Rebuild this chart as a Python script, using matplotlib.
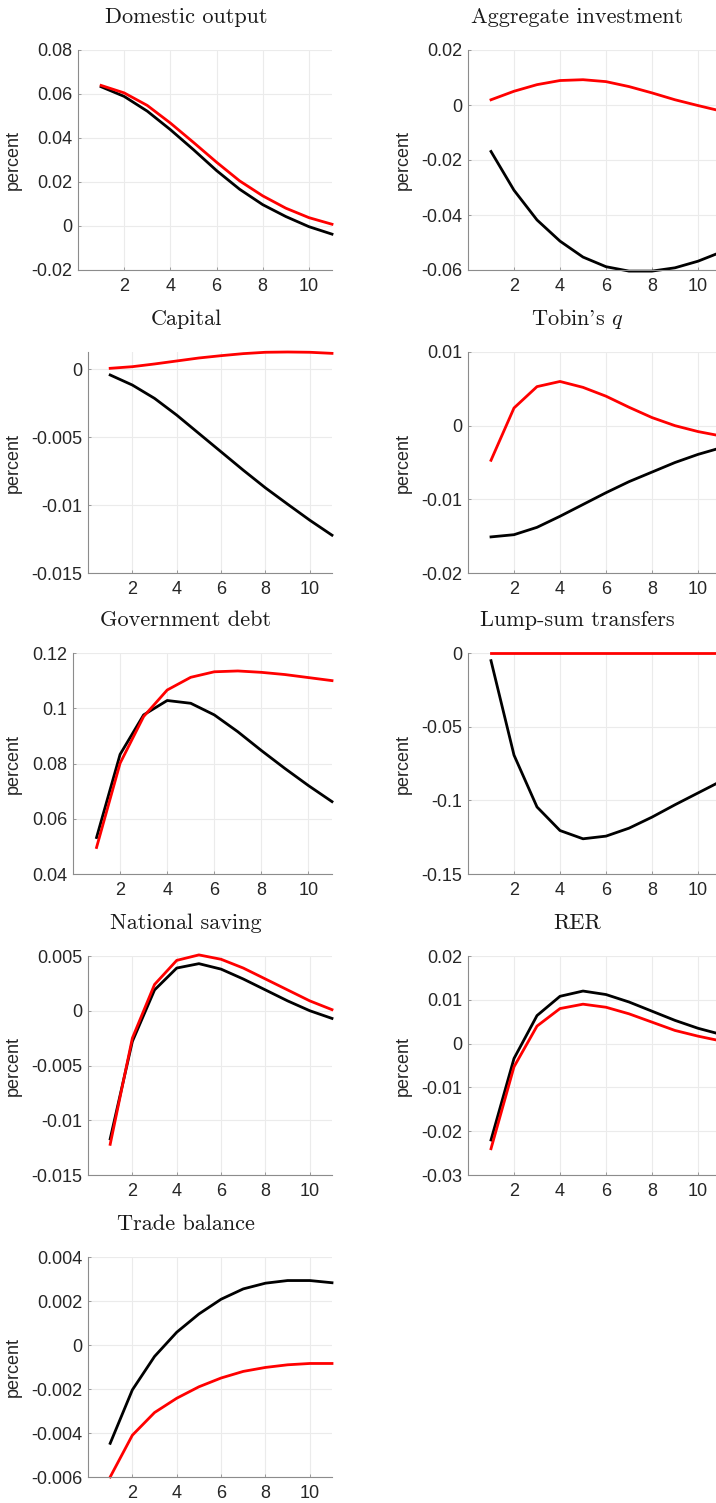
import numpy as np
import matplotlib
matplotlib.use("Agg")
import matplotlib.pyplot as plt

plt.rcParams['font.family'] = ['Liberation Sans', 'DejaVu Sans']
plt.rcParams['mathtext.fontset'] = 'cm'

# horizon (quarters)
t = np.arange(1, 12)

# impulse responses: black line / red line
dom_out_k = [0.0633, 0.0589, 0.0522, 0.0438, 0.0347, 0.0252, 0.0167, 0.0097, 0.0043, -0.0003, -0.0037]
dom_out_r = [0.0639, 0.0605, 0.0548, 0.0468, 0.0380, 0.0290, 0.0205, 0.0137, 0.0081, 0.0038, 0.0008]

inv_k = [-0.0169, -0.0310, -0.0418, -0.0495, -0.0553, -0.0588, -0.0604, -0.0604, -0.0592, -0.0568, -0.0535]
inv_r = [0.0019, 0.0050, 0.0074, 0.0089, 0.0092, 0.0085, 0.0067, 0.0044, 0.0019, -0.0002, -0.0022]

cap_k = [-0.00044, -0.00118, -0.00216, -0.00339, -0.00474, -0.00609, -0.00744, -0.00874, -0.00994, -0.01112, -0.01222]
cap_r = [0.00005, 0.00017, 0.00037, 0.00059, 0.00081, 0.00098, 0.00113, 0.00123, 0.00125, 0.00123, 0.00115]

q_k = [-0.0151, -0.0148, -0.0138, -0.0123, -0.0107, -0.0091, -0.0076, -0.0063, -0.0050, -0.0039, -0.0030]
q_r = [-0.0047, 0.0024, 0.0053, 0.0060, 0.0052, 0.0040, 0.0025, 0.0011, 0.0000, -0.0008, -0.0014]

debt_k = [0.0532, 0.0833, 0.0976, 0.1028, 0.1018, 0.0976, 0.0915, 0.0847, 0.0782, 0.0720, 0.0662]
debt_r = [0.0496, 0.0801, 0.0970, 0.1066, 0.1112, 0.1132, 0.1135, 0.1130, 0.1122, 0.1111, 0.1100]

lump_k = [-0.0052, -0.0693, -0.1045, -0.1205, -0.1261, -0.1243, -0.1189, -0.1114, -0.1030, -0.0950, -0.0870]
lump_r = [0.0, 0.0, 0.0, 0.0, 0.0, 0.0, 0.0, 0.0, 0.0, 0.0, 0.0]

sav_k = [-0.0117, -0.0028, 0.0019, 0.0039, 0.0043, 0.0038, 0.0029, 0.0019, 0.0009, 0.0000, -0.0007]
sav_r = [-0.0122, -0.0025, 0.0024, 0.0046, 0.0051, 0.0047, 0.0039, 0.0029, 0.0019, 0.0009, 0.0001]

rer_k = [-0.0220, -0.0034, 0.0064, 0.0108, 0.0120, 0.0112, 0.0095, 0.0074, 0.0053, 0.0035, 0.0021]
rer_r = [-0.0240, -0.0053, 0.0040, 0.0080, 0.0090, 0.0083, 0.0068, 0.0049, 0.0030, 0.0017, 0.0006]

tb_k = [-0.00447, -0.00204, -0.00052, 0.00058, 0.00141, 0.00208, 0.00255, 0.00281, 0.00293, 0.00293, 0.00283]
tb_r = [-0.00600, -0.00410, -0.00307, -0.00242, -0.00190, -0.00150, -0.00120, -0.00102, -0.00090, -0.00084, -0.00084]

titles = ["Domestic output", "Aggregate investment", "Capital", "Tobin's $q$",
          "Government debt", "Lump-sum transfers", "National saving", "RER",
          "Trade balance"]
blacks = [dom_out_k, inv_k, cap_k, q_k, debt_k, lump_k, sav_k, rer_k, tb_k]
reds = [dom_out_r, inv_r, cap_r, q_r, debt_r, lump_r, sav_r, rer_r, tb_r]
ylims = [(-0.02, 0.08), (-0.06, 0.02), (-0.015, 0.00125), (-0.02, 0.01),
         (0.04, 0.12), (-0.15, 0.0), (-0.015, 0.005), (-0.03, 0.02), (-0.006, 0.004)]
yticks = [[-0.02, 0, 0.02, 0.04, 0.06, 0.08],
          [-0.06, -0.04, -0.02, 0, 0.02],
          [-0.015, -0.01, -0.005, 0],
          [-0.02, -0.01, 0, 0.01],
          [0.04, 0.06, 0.08, 0.1, 0.12],
          [-0.15, -0.1, -0.05, 0],
          [-0.015, -0.01, -0.005, 0, 0.005],
          [-0.03, -0.02, -0.01, 0, 0.01, 0.02],
          [-0.006, -0.004, -0.002, 0, 0.002, 0.004]]

W, H = 716, 1503
fig = plt.figure(figsize=(W / 100, H / 100), dpi=100)

# layout in pixels (MATLAB subplot boxes)
tops = [50, 352, 653, 956, 1257]
bots = [270, 573, 874, 1175, 1477]
left_l = [78, 88, 73, 88, 88]
right_l = 332
left_r, right_r = 468, 721
title_cx = [186, 577]
label_cx = [22, 412]


def fmt(v):
    if v == 0:
        return "0"
    return ("%g" % v)


for i in range(9):
    row, col = i // 2, i % 2
    x0 = left_l[row] if col == 0 else left_r
    x1 = right_l if col == 0 else right_r
    y0, y1 = tops[row], bots[row]
    ax = fig.add_axes([x0 / W, 1 - y1 / H, (x1 - x0) / W, (y1 - y0) / H])

    ax.plot(t, blacks[i], color='black', lw=2.0, solid_joinstyle='round', clip_on=False)
    ax.plot(t, reds[i], color='red', lw=2.0, solid_joinstyle='round', clip_on=False)

    ax.set_xlim(0, 11)
    ax.set_ylim(*ylims[i])
    ax.set_xticks([2, 4, 6, 8, 10])
    ax.set_yticks(yticks[i])
    ax.set_yticklabels([fmt(v) for v in yticks[i]])
    ax.grid(True, color='#ebebeb', lw=0.8)
    ax.set_axisbelow(True)
    for s in ['top', 'right']:
        ax.spines[s].set_visible(False)
    for s in ['left', 'bottom']:
        ax.spines[s].set_color('#8c8c8c')
        ax.spines[s].set_linewidth(0.8)
    ax.tick_params(direction='in', length=2, width=0.6, color='#8c8c8c',
                   labelsize=13, labelcolor='#262626')
    ax.tick_params(axis='x', pad=6)
    ax.tick_params(axis='y', pad=4)

    ax.set_ylabel('percent', fontsize=13, color='#262626')
    ax.yaxis.set_label_coords((label_cx[col] - x0) / (x1 - x0), 0.5)

    fig.text(title_cx[col] / W, 1 - (y0 - 33) / H, titles[i],
             family='cmr10', fontsize=16, ha='center', va='center', color='#1a1a1a')

fig.savefig('out.png', dpi=100)
